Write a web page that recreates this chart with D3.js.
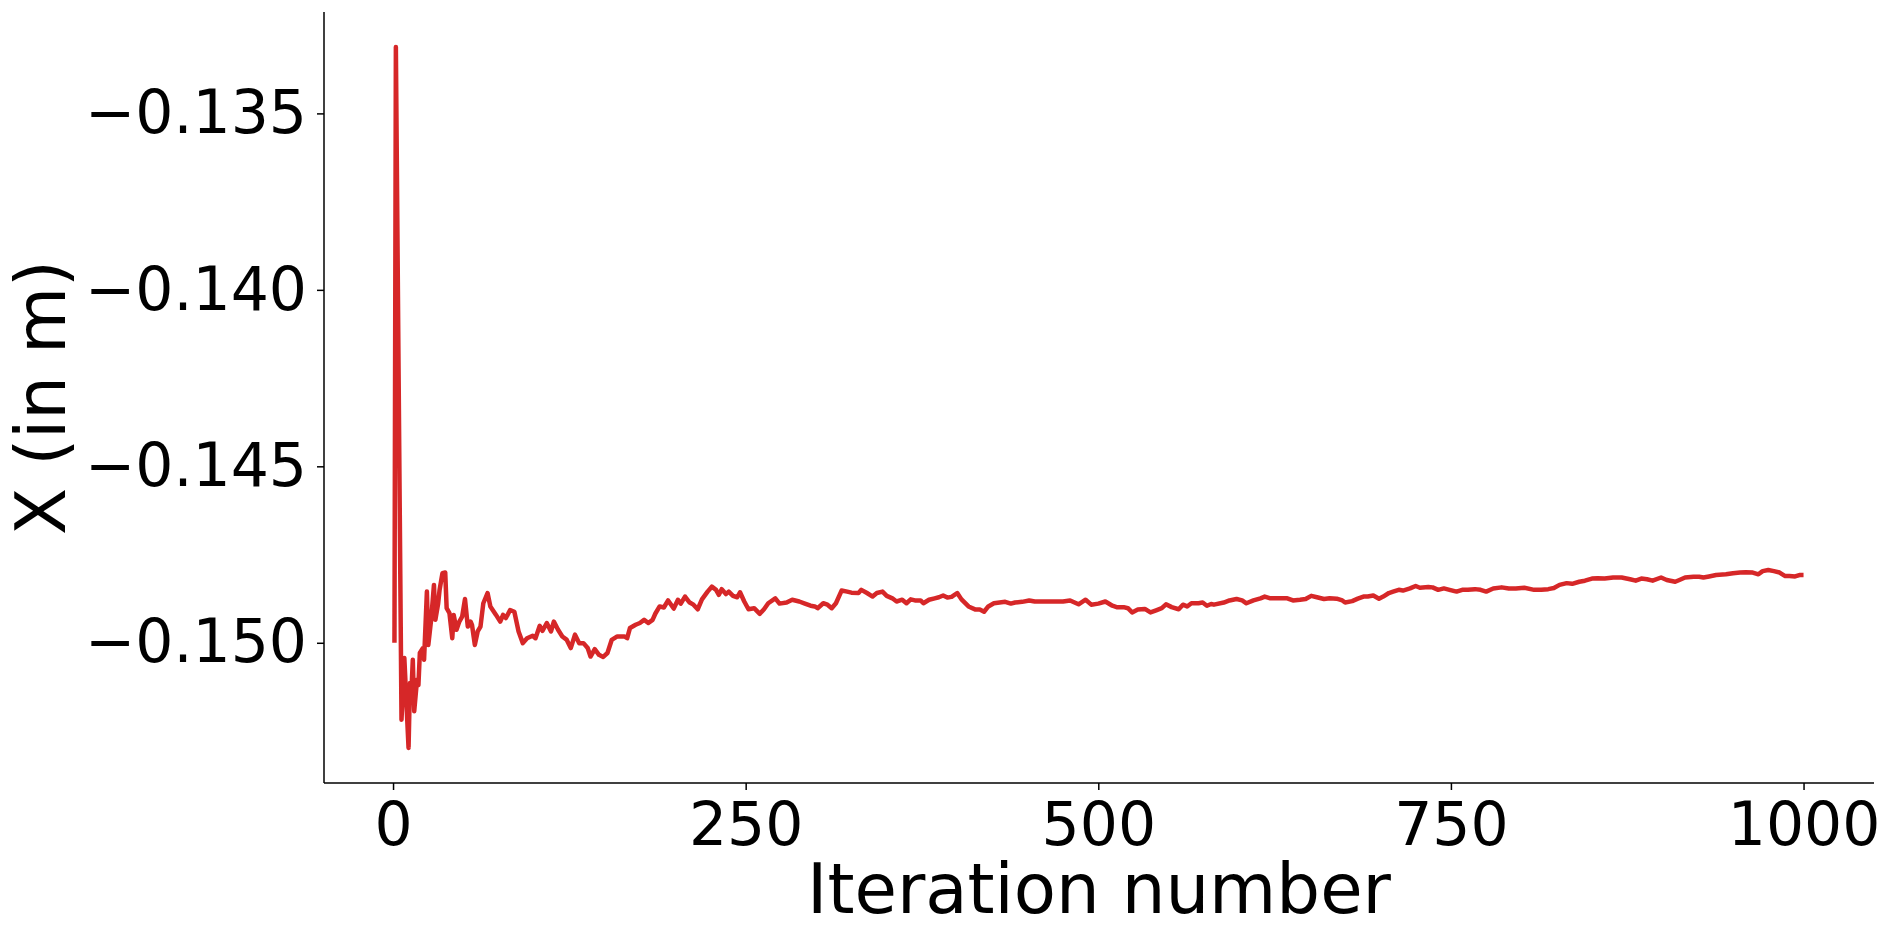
<!DOCTYPE html>
<html>
<head>
<meta charset="utf-8">
<script src="https://cdn.jsdelivr.net/npm/d3@7"></script>
<style>
  html, body { margin: 0; padding: 0; background: #fff; }
  svg { display: block; }
  text { font-family: "DejaVu Sans", sans-serif; fill: #000; }
</style>
</head>
<body>
<svg id="chart" width="1894" height="935"></svg>
<script>
// ---- data ----
const iterations = [
  1, 2, 6, 8, 11, 12, 13, 14, 15, 17, 18, 19, 21, 22, 24, 25, 27, 29, 30, 32,
  33, 35, 37, 38, 40, 42, 43, 45, 47, 49, 51, 53, 55, 56, 58, 60, 62, 64, 67, 69,
  73, 76, 78, 80, 83, 86, 89, 92, 95, 99, 101, 104, 106, 109, 112, 114, 117, 120, 123, 126,
  129, 132, 135, 138, 140, 143, 146, 149, 152, 155, 159, 164, 166, 168, 172, 175, 178, 181, 184, 186,
  189, 192, 195, 199, 202, 204, 207, 210, 213, 216, 219, 223, 226, 229, 231, 233, 236, 238, 241, 244,
  246, 249, 252, 256, 260, 263, 266, 271, 274, 279, 283, 288, 292, 296, 299, 301, 305, 308, 311, 314,
  318, 322, 325, 330, 332, 336, 340, 343, 347, 350, 354, 357, 361, 364, 367, 370, 374, 376, 380, 384,
  387, 390, 393, 396, 400, 403, 408, 413, 416, 419, 422, 426, 430, 434, 438, 441, 446, 451, 455, 459,
  465, 470, 475, 480, 486, 491, 495, 500, 505, 510, 513, 518, 521, 524, 528, 533, 537, 541, 545, 548,
  552, 557, 560, 563, 566, 571, 574, 577, 580, 582, 589, 593, 598, 602, 605, 610, 615, 618, 622, 627,
  631, 634, 638, 643, 647, 651, 655, 660, 664, 669, 673, 675, 680, 684, 688, 691, 695, 699, 702, 706,
  709, 713, 716, 721, 725, 728, 734, 737, 741, 745, 749, 754, 758, 762, 767, 771, 775, 780, 786, 791,
  796, 802, 809, 814, 819, 823, 827, 832, 836, 841, 845, 850, 854, 859, 865, 871, 877, 881, 885, 889,
  893, 899, 903, 909, 912, 916, 922, 926, 929, 933, 938, 945, 950, 955, 959, 964, 968, 971, 975, 979,
  983, 987, 990, 994, 997, 1000
];
const xValues = [
  -0.15000, -0.13312, -0.15218, -0.15043, -0.15298, -0.15114, -0.15142, -0.15048, -0.15194, -0.15105,
  -0.15120, -0.15029, -0.15016, -0.15048, -0.14855, -0.15006, -0.14935, -0.14836, -0.14935, -0.14888,
  -0.14850, -0.14803, -0.14801, -0.14902, -0.14916, -0.14987, -0.14921, -0.14963, -0.14940, -0.14926,
  -0.14876, -0.14954, -0.14940, -0.14950, -0.15006, -0.14968, -0.14954, -0.14888, -0.14859, -0.14897,
  -0.14921, -0.14940, -0.14921, -0.14930, -0.14907, -0.14912, -0.14968, -0.15001, -0.14987, -0.14980,
  -0.14987, -0.14952, -0.14966, -0.14944, -0.14968, -0.14940, -0.14963, -0.14982, -0.14991, -0.15015,
  -0.14977, -0.15001, -0.15001, -0.15015, -0.15039, -0.15018, -0.15034, -0.15040, -0.15029, -0.14992,
  -0.14982, -0.14982, -0.14987, -0.14958, -0.14949, -0.14944, -0.14935, -0.14944, -0.14935, -0.14917,
  -0.14897, -0.14900, -0.14880, -0.14903, -0.14878, -0.14889, -0.14869, -0.14885, -0.14892, -0.14905,
  -0.14877, -0.14855, -0.14841, -0.14850, -0.14864, -0.14848, -0.14862, -0.14855, -0.14867, -0.14871,
  -0.14857, -0.14883, -0.14905, -0.14902, -0.14918, -0.14905, -0.14888, -0.14874, -0.14889, -0.14886,
  -0.14878, -0.14883, -0.14889, -0.14895, -0.14897, -0.14902, -0.14888, -0.14892, -0.14902, -0.14888,
  -0.14852, -0.14855, -0.14858, -0.14859, -0.14850, -0.14859, -0.14869, -0.14859, -0.14855, -0.14867,
  -0.14874, -0.14883, -0.14878, -0.14888, -0.14877, -0.14880, -0.14880, -0.14888, -0.14878, -0.14874,
  -0.14871, -0.14866, -0.14872, -0.14870, -0.14859, -0.14877, -0.14897, -0.14906, -0.14906, -0.14912,
  -0.14897, -0.14888, -0.14886, -0.14884, -0.14889, -0.14886, -0.14884, -0.14880, -0.14883, -0.14883,
  -0.14883, -0.14883, -0.14883, -0.14880, -0.14891, -0.14878, -0.14892, -0.14889, -0.14883, -0.14895,
  -0.14899, -0.14899, -0.14902, -0.14914, -0.14906, -0.14904, -0.14914, -0.14908, -0.14902, -0.14891,
  -0.14899, -0.14905, -0.14892, -0.14897, -0.14888, -0.14888, -0.14886, -0.14895, -0.14890, -0.14892,
  -0.14886, -0.14880, -0.14876, -0.14880, -0.14888, -0.14880, -0.14874, -0.14869, -0.14874, -0.14874,
  -0.14874, -0.14874, -0.14880, -0.14878, -0.14876, -0.14867, -0.14871, -0.14876, -0.14874, -0.14875,
  -0.14880, -0.14886, -0.14882, -0.14875, -0.14869, -0.14869, -0.14866, -0.14875, -0.14869, -0.14859,
  -0.14855, -0.14850, -0.14852, -0.14846, -0.14839, -0.14844, -0.14842, -0.14843, -0.14850, -0.14846,
  -0.14850, -0.14855, -0.14850, -0.14850, -0.14848, -0.14850, -0.14855, -0.14846, -0.14843, -0.14846,
  -0.14846, -0.14844, -0.14850, -0.14850, -0.14848, -0.14845, -0.14836, -0.14831, -0.14833, -0.14827,
  -0.14824, -0.14818, -0.14817, -0.14818, -0.14815, -0.14815, -0.14820, -0.14824, -0.14818, -0.14820,
  -0.14824, -0.14815, -0.14822, -0.14827, -0.14822, -0.14815, -0.14813, -0.14813, -0.14815, -0.14812,
  -0.14808, -0.14806, -0.14803, -0.14801, -0.14800, -0.14801, -0.14806, -0.14797, -0.14794, -0.14797,
  -0.14801, -0.14811, -0.14811, -0.14812, -0.14808, -0.14808
];
const xTicks = [0, 250, 500, 750, 1000];
const yTicks = [-0.150, -0.145, -0.140, -0.135];
const xLabel = "Iteration number";
const yLabel = "X (in m)";
const lineColor = "#d62728";

// ---- layout ----
const W = 1894, H = 935;
const plot = { left: 324, right: 1874, top: 12, bottom: 783 };

const series = iterations.map((it, i) => ({ x: it, y: xValues[i] }));

function padded(ext) {
  const r = ext[1] - ext[0];
  return [ext[0] - 0.05 * r, ext[1] + 0.05 * r];
}

const x = d3.scaleLinear()
  .domain(padded(d3.extent(iterations)))
  .range([plot.left, plot.right]);
const y = d3.scaleLinear()
  .domain(padded(d3.extent(xValues)))
  .range([plot.bottom, plot.top]);

const svg = d3.select("#chart");

// line
const line = d3.line().x(d => x(d.x)).y(d => y(d.y));
svg.append("path")
  .datum(series)
  .attr("fill", "none")
  .attr("stroke", lineColor)
  .attr("stroke-width", 4.5)
  .attr("stroke-linejoin", "round")
  .attr("stroke-linecap", "butt")
  .attr("d", line);

// axes
const xAxis = d3.axisBottom(x).tickValues(xTicks).tickFormat(d3.format("d"))
  .tickSizeInner(7).tickSizeOuter(0).tickPadding(8);
const yAxis = d3.axisLeft(y).tickValues(yTicks).tickFormat(d3.format(".3f"))
  .tickSizeInner(7).tickSizeOuter(0).tickPadding(10);

const gx = svg.append("g")
  .attr("transform", `translate(0,${plot.bottom})`)
  .call(xAxis);
const gy = svg.append("g")
  .attr("transform", `translate(${plot.left},0)`)
  .call(yAxis);

// spines span the full plot area
gx.select(".domain").attr("d", `M${plot.left},0H${plot.right}`);
gy.select(".domain").attr("d", `M0,${plot.bottom}V${plot.top}`);

[gx, gy].forEach(g => {
  g.select(".domain").attr("stroke", "#000").attr("stroke-width", 1.5);
  g.selectAll(".tick line").attr("stroke", "#000").attr("stroke-width", 1.5);
  g.selectAll(".tick text")
    .attr("font-family", "DejaVu Sans, sans-serif")
    .attr("font-size", 60)
    .attr("fill", "#000");
});
gx.selectAll(".tick text").attr("dy", "0.78em");

// axis labels
svg.append("text")
  .attr("x", (plot.left + plot.right) / 2)
  .attr("y", 913)
  .attr("text-anchor", "middle")
  .attr("font-size", 69)
  .text(xLabel);

svg.append("text")
  .attr("transform", `translate(65,${(plot.top + plot.bottom) / 2}) rotate(-90)`)
  .attr("text-anchor", "middle")
  .attr("font-size", 69)
  .text(yLabel);
</script>
</body>
</html>
